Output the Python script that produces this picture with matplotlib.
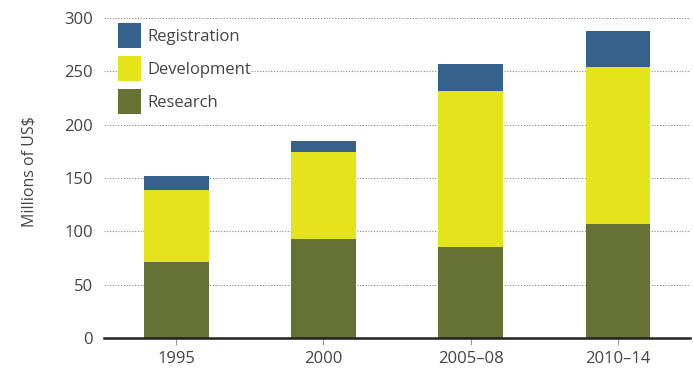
import matplotlib
matplotlib.use("Agg")
import matplotlib.pyplot as plt
import numpy as np

plt.rcParams["font.family"] = ["Open Sans", "DejaVu Sans"]

periods = ["1995", "2000", "2005\u201308", "2010\u201314"]
research = [71, 93, 85, 107]
development = [68, 81, 147, 147]
registration = [13, 11, 25, 34]

C_RES = "#657234"
C_DEV = "#e5e31a"
C_REG = "#35628c"
TXT = "#444444"

fig = plt.figure(figsize=(6.93, 3.74), dpi=100)
ax = fig.add_axes([0.150, 0.096, 0.846, 0.856])

x = np.arange(len(periods))
w = 0.44
res = np.array(research)
dev = np.array(development)
reg = np.array(registration)
b1 = ax.bar(x, res, w, color=C_RES, label="Research", zorder=2)
b2 = ax.bar(x, dev, w, bottom=res, color=C_DEV, label="Development", zorder=2)
b3 = ax.bar(x, reg, w, bottom=res + dev, color=C_REG, label="Registration", zorder=2)

ax.set_xlim(-0.49, 3.49)
ax.set_ylim(0, 300)
ax.set_yticks(range(0, 301, 50))
ax.set_xticks(x)
ax.set_xticklabels(periods)
ax.yaxis.grid(True, linestyle=(0, (1, 1.5)), color="#888888", linewidth=0.8)
ax.set_axisbelow(True)

for s in ("top", "right", "left"):
    ax.spines[s].set_visible(False)
ax.spines["bottom"].set_linewidth(1.8)
ax.spines["bottom"].set_color("#222222")
ax.tick_params(axis="y", length=0, pad=8, labelsize=12, labelcolor=TXT)
ax.tick_params(axis="x", length=5, width=0.8, color="#999999", pad=4,
               labelsize=12, labelcolor=TXT)
ax.set_ylabel("Millions of US$", fontsize=11.5, color=TXT)
ax.yaxis.set_label_coords(-0.113, 0.52)

# patch height ~25px, row pitch ~33px
leg = ax.legend([b3, b2, b1], ["Registration", "Development", "Research"],
                loc="upper left", bbox_to_anchor=(0.024, 0.984),
                fontsize=12, handlelength=1.38, handleheight=1.93,
                labelspacing=0.48, handletextpad=0.36, borderpad=0,
                borderaxespad=0, frameon=True, facecolor="white",
                edgecolor="none", framealpha=1, fancybox=False)
for t in leg.get_texts():
    t.set_color(TXT)

fig.savefig("out.png", dpi=100)
